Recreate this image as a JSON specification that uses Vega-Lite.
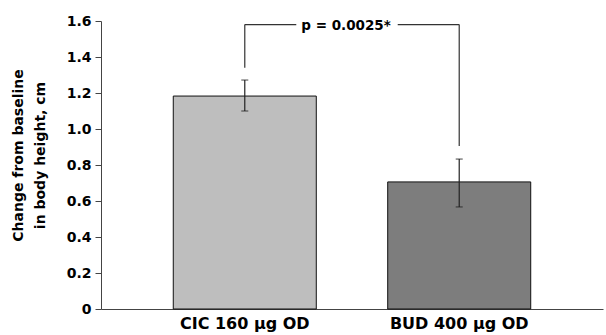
{
  "$schema": "https://vega.github.io/schema/vega-lite/v6.json",
  "autosize": "none",
  "padding": {"left": 101, "top": 21, "right": 3, "bottom": 26},
  "width": 502,
  "height": 288,
  "config": {
    "view": {"stroke": null},
    "font": "DejaVu Sans",
    "axis": {"labelFont": "DejaVu Sans", "titleFont": "DejaVu Sans", "labelFontWeight": "bold", "titleFontWeight": "bold", "labelColor": "#000", "titleColor": "#000", "domainColor": "#444", "tickColor": "#444", "grid": false},
    "axisX": {"ticks": false, "labelPadding": 6, "labelAngle": 0, "labelFontSize": 16, "title": null},
    "axisY": {"tickSize": 6, "labelPadding": 4, "labelFontSize": 14, "tickCount": 8, "labelExpr": "datum.value == 0 ? '0' : format(datum.value, '.1f')", "titleFontSize": 14, "titleLineHeight": 22, "titleX": -76, "titleY": 134, "labelOverlap": false}
  },
  "datasets": {
    "bars": [
      {"group": "CIC 160 μg OD", "mean": 1.183, "lo": 1.1, "hi": 1.272},
      {"group": "BUD 400 μg OD", "mean": 0.706, "lo": 0.567, "hi": 0.833}
    ],
    "legs": [
      {"group": "CIC 160 μg OD", "from": 1.34, "to": 1.58},
      {"group": "BUD 400 μg OD", "from": 0.906, "to": 1.58}
    ],
    "bracket": [
      {"group": "CIC 160 μg OD", "other": "BUD 400 μg OD", "y": 1.58, "label": "p = 0.0025*"}
    ]
  },
  "encoding": {
    "x": {
      "field": "group", "type": "nominal", "title": null,
      "scale": {"type": "band", "domain": ["CIC 160 μg OD", "BUD 400 μg OD"], "paddingInner": 0.333, "paddingOuter": 0.337}
    }
  },
  "layer": [
    {
      "data": {"name": "bars"},
      "mark": {"type": "bar", "stroke": "#111", "strokeWidth": 1},
      "encoding": {
        "y": {"field": "mean", "type": "quantitative",
          "scale": {"domain": [0, 1.6], "nice": false},
          "title": ["Change from baseline", "in body height, cm"]},
        "color": {"field": "group", "type": "nominal", "scale": {"domain": ["CIC 160 μg OD", "BUD 400 μg OD"], "range": ["#bebebe", "#7d7d7d"]}, "legend": null}
      }
    },
    {
      "data": {"name": "bars"},
      "mark": {"type": "rule", "color": "#222", "strokeWidth": 1.2},
      "encoding": {"y": {"field": "lo", "type": "quantitative"}, "y2": {"field": "hi"}}
    },
    {
      "data": {"name": "bars"},
      "mark": {"type": "tick", "color": "#222", "size": 7, "thickness": 1.2},
      "encoding": {"y": {"field": "lo", "type": "quantitative"}}
    },
    {
      "data": {"name": "bars"},
      "mark": {"type": "tick", "color": "#222", "size": 7, "thickness": 1.2},
      "encoding": {"y": {"field": "hi", "type": "quantitative"}}
    },
    {
      "data": {"name": "legs"},
      "mark": {"type": "rule", "color": "#333", "strokeWidth": 1.2},
      "encoding": {"y": {"field": "from", "type": "quantitative"}, "y2": {"field": "to"}}
    },
    {
      "data": {"name": "bracket"},
      "mark": {"type": "rule", "color": "#333", "strokeWidth": 1.2},
      "encoding": {
        "x": {"field": "group", "type": "nominal", "bandPosition": 0.5},
        "x2": {"field": "group", "bandPosition": 0.86},
        "y": {"field": "y", "type": "quantitative"}
      }
    },
    {
      "data": {"name": "bracket"},
      "mark": {"type": "rule", "color": "#333", "strokeWidth": 1.2},
      "encoding": {
        "x": {"field": "other", "type": "nominal", "bandPosition": 0.07},
        "x2": {"field": "other", "bandPosition": 0.5},
        "y": {"field": "y", "type": "quantitative"}
      }
    },
    {
      "data": {"name": "bracket"},
      "mark": {"type": "text", "fontWeight": "bold", "fontSize": 13.5, "baseline": "middle", "align": "center", "color": "#000", "dy": 1},
      "encoding": {
        "x": {"field": "group", "type": "nominal", "bandPosition": 1.208},
        "y": {"field": "y", "type": "quantitative"},
        "text": {"field": "label"}
      }
    }
  ]
}
